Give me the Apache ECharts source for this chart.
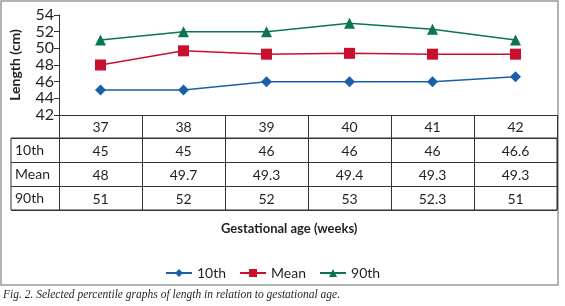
<!DOCTYPE html>
<html>
<head>
<meta charset="utf-8">
<script src="https://cdn.jsdelivr.net/npm/echarts@6/dist/echarts.min.js"></script>
<style>
  html, body { margin: 0; padding: 0; background: #fff; }
  #chart { width: 565px; height: 306px; }
</style>
</head>
<body>
<div id="chart"></div>
<script>
// gestational age in weeks
const weeks = ["37", "38", "39", "40", "41", "42"];
const p10 = [45, 45, 46, 46, 46, 46.6];
const meanLen = [48, 49.7, 49.3, 49.4, 49.3, 49.3];
const p90 = [51, 52, 52, 53, 52.3, 51];
const rowNames = ["10th", "Mean", "90th"];
const yTicks = [42, 44, 46, 48, 50, 52, 54];

const font = "Lato, 'Liberation Sans', sans-serif";
const ink = "#231f20";
const lineCol = "#333";

const chart = echarts.init(document.getElementById("chart"));

// each column of the table is one x axis label: week, then the three rows
const rows = [p10, meanLen, p90];
function columnLabel(value, idx) {
  const parts = [value];
  rows.forEach((r) => parts.push(String(r[idx])));
  return parts.join("\n");
}

const option = {
  animation: false,
  textStyle: { fontFamily: font },
  title: {
    text: "Gestational age (weeks)",
    left: 216,
    top: 217,
    textStyle: { fontFamily: font, fontSize: 13, fontWeight: "bold", color: ink },
  },
  legend: {
    top: 261,
    left: 160,
    itemWidth: 26,
    itemHeight: 10,
    itemGap: 13,
    textStyle: { fontFamily: font, fontSize: 14, color: ink },
    data: ["10th", "Mean", "90th"],
  },
  graphic: [
    {
      type: "rect",
      shape: { x: 1, y: 1, width: 557, height: 284 },
      style: { fill: "none", stroke: "#9a9a9a", lineWidth: 1.5 },
      silent: true,
    },
    {
      type: "text",
      left: 3,
      top: 289,
      style: {
        text: "Fig. 2. Selected percentile graphs of length in relation to gestational age.",
        font: "italic 11.5px 'Liberation Serif', serif",
        fill: ink,
      },
    },
  ],
  grid: [
    { left: 54, right: 8, top: 15, height: 100 },
    {
      left: 11, right: 8, top: 138, height: 72,
      show: true, borderColor: lineCol, borderWidth: 1, backgroundColor: "transparent",
    },
  ],
  xAxis: [
    {
      gridIndex: 0,
      type: "category",
      data: weeks,
      boundaryGap: true,
      axisLine: { lineStyle: { color: lineCol, width: 1 } },
      axisTick: { show: true, interval: 0, length: 95, lineStyle: { color: lineCol, width: 1 } },
      axisLabel: {
        interval: 0,
        margin: 0,
        lineHeight: 24,
        fontSize: 14,
        color: ink,
        formatter: columnLabel,
      },
    },
    { gridIndex: 1, type: "value", show: false },
  ],
  yAxis: [
    {
      gridIndex: 0,
      type: "value",
      min: yTicks[0],
      max: yTicks[yTicks.length - 1],
      interval: 2,
      name: "Length (cm)",
      nameLocation: "middle",
      nameGap: 37,
      nameTextStyle: { fontFamily: font, fontSize: 14, fontWeight: "bold", color: ink },
      axisLine: { show: true, lineStyle: { color: lineCol, width: 1 } },
      axisTick: { show: true, length: 5, lineStyle: { color: lineCol } },
      axisLabel: { margin: 5, fontSize: 16, color: ink },
      splitLine: { show: false },
    },
    {
      gridIndex: 1,
      type: "category",
      data: rowNames,
      inverse: true,
      axisLine: { show: false },
      axisTick: { show: false },
      axisLabel: { inside: true, margin: 4, fontSize: 14, color: ink },
      splitLine: { show: true, interval: 0, lineStyle: { color: lineCol, width: 1 } },
    },
  ],
  series: [
    {
      name: "10th",
      type: "line",
      data: p10,
      symbol: "diamond",
      symbolSize: 11,
      lineStyle: { width: 1.5 },
      itemStyle: { color: "#1b5fab" },
    },
    {
      name: "Mean",
      type: "line",
      data: meanLen,
      symbol: "rect",
      symbolSize: 11,
      lineStyle: { width: 1.5 },
      itemStyle: { color: "#c8102e" },
    },
    {
      name: "90th",
      type: "line",
      data: p90,
      symbol: "triangle",
      symbolSize: 11,
      lineStyle: { width: 1.5 },
      itemStyle: { color: "#0b7452" },
    },
  ],
};

chart.setOption(option);
</script>
</body>
</html>
